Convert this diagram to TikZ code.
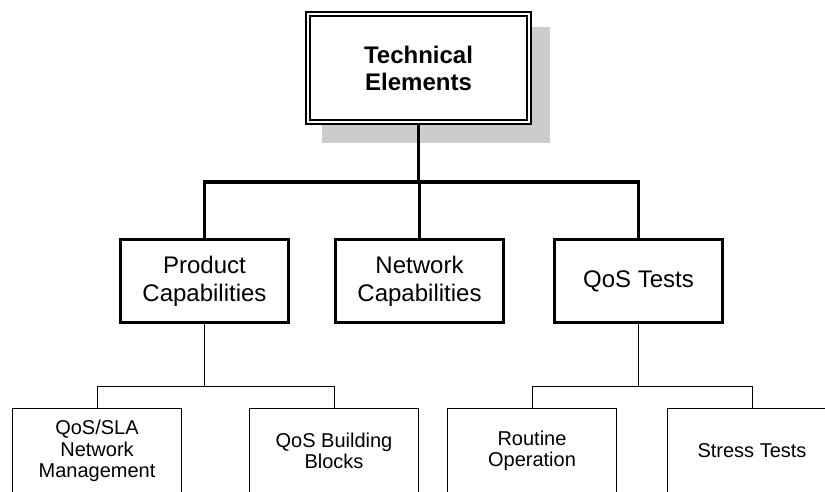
\documentclass[tikz,border=0pt]{standalone}
\usepackage{fontspec}
\setmainfont{Liberation Sans}
\begin{document}
\begin{tikzpicture}[x=1pt,y=-1pt,
  topbox/.style={draw=black, line width=2pt, double=white, double distance=2pt, fill=white,
    minimum width=221pt, minimum height=108pt, inner sep=0pt, align=center,
    font=\fontsize{24}{27}\selectfont\bfseries},
  midbox/.style={draw=black, line width=3pt, fill=white, minimum width=168pt, minimum height=83pt,
    inner sep=0pt, align=center, font=\fontsize{24}{28}\selectfont},
  lowbox/.style={draw=black, line width=1pt, fill=white, minimum width=169pt, minimum height=86pt,
    inner sep=0pt, align=center, font=\fontsize{20}{21.5}\selectfont},
  thickline/.style={line width=3.5pt},
  thinline/.style={line width=1pt}]
\useasboundingbox (0,0) rectangle (825,491);
\clip (0,0) rectangle (825,491);
% shadow
\fill[black!20] (322,27) rectangle (550,143);
% top box
\node[topbox] (top) at (418.5,68) {Technical\\Elements};
% level 2
\node[midbox] (prod) at (204.5,281) {Product\\Capabilities};
\node[midbox] (net) at (419.5,281) {Network\\Capabilities};
\node[midbox] (qos) at (638.5,281) {QoS Tests};
% level 3
\node[lowbox] (sla) at (97,451) {QoS/SLA\\Network\\Management};
\node[lowbox] (bb) at (334,451) {QoS Building\\Blocks};
\node[lowbox] (rout) at (532,451) {Routine\\Operation};
\node[lowbox] (stress) at (752,451) {Stress Tests};
% connectors
\coordinate (hy) at (0,182);
\draw[thickline] (top.south) -- (top.south |- hy);
\draw[thickline, line cap=rect] (prod.north) -- (prod.north |- hy) -- (qos.north |- hy) -- (qos.north);
\draw[thickline] (net.north) -- (net.north |- hy);
\coordinate (ly) at (0,386);
\draw[thinline] (prod.south) -- (prod.south |- ly);
\draw[thinline] (sla.north) -- (sla.north |- ly) -- (bb.north |- ly) -- (bb.north);
\draw[thinline] (qos.south) -- (qos.south |- ly);
\draw[thinline] (rout.north) -- (rout.north |- ly) -- (stress.north |- ly) -- (stress.north);
\end{tikzpicture}
\end{document}
